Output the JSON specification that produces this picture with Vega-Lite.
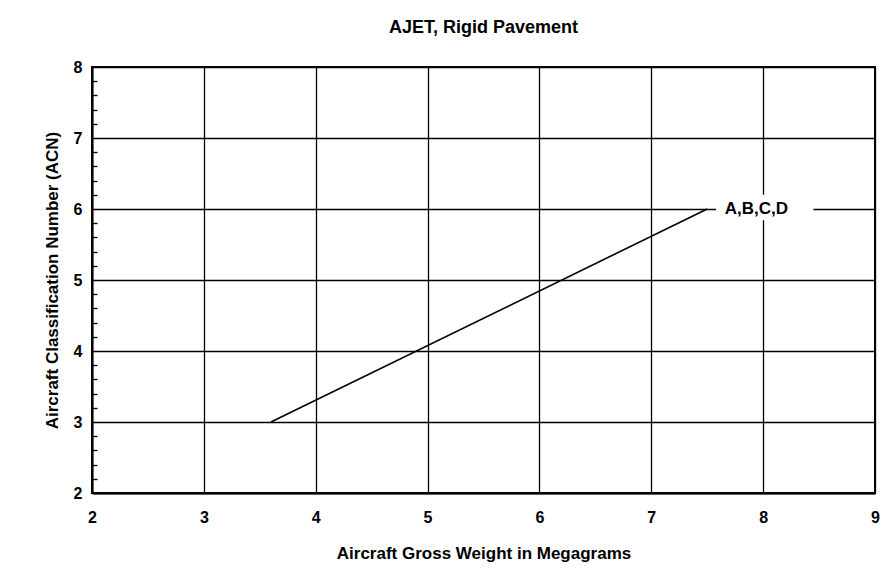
{
  "$schema": "https://vega.github.io/schema/vega-lite/v6.json",
  "width": 783,
  "height": 426,
  "autosize": {"type": "none"},
  "padding": {"left": 92, "top": 67, "right": 17, "bottom": 82},
  "background": "white",
  "title": {
    "text": "AJET, Rigid Pavement",
    "font": "Liberation Sans",
    "fontSize": 18,
    "fontWeight": "bold",
    "color": "black",
    "anchor": "middle",
    "baseline": "alphabetic",
    "offset": 8
  },
  "config": {
    "view": {"stroke": "black", "strokeWidth": 2},
    "axis": {
      "labelFont": "Liberation Sans",
      "labelFontWeight": "bold",
      "labelFontSize": 16,
      "labelColor": "black",
      "titleFont": "Liberation Sans",
      "titleFontWeight": "bold",
      "titleFontSize": 17,
      "titleColor": "black",
      "domainColor": "black",
      "domainWidth": 2,
      "gridColor": "black",
      "gridOpacity": 1,
      "gridWidth": 1.3,
      "tickColor": "black",
      "labelOverlap": false,
      "labelFlush": false
    }
  },
  "resolve": {"axis": {"y": "independent"}},
  "datasets": {
    "curve": [
      {"weight": 3.6, "acn": 3},
      {"weight": 7.5, "acn": 6}
    ],
    "labelbox": [
      {"x0": 7.58, "x1": 8.45, "y0": 5.84, "y1": 6.2}
    ],
    "labels": [
      {"weight": 7.94, "acn": 6, "text": "A,B,C,D"}
    ]
  },
  "layer": [
    {
      "data": {"name": "labelbox"},
      "mark": {"type": "rect", "fill": "white", "stroke": null},
      "encoding": {
        "x": {"field": "x0", "type": "quantitative", "scale": {"domain": [2, 9], "nice": false, "zero": false},
          "axis": {
            "title": "Aircraft Gross Weight in Megagrams",
            "values": [2, 3, 4, 5, 6, 7, 8, 9],
            "format": "d",
            "grid": true,
            "ticks": false,
            "labelPadding": 16,
            "titlePadding": 20
          }},
        "x2": {"field": "x1"},
        "y": {"field": "y0", "type": "quantitative", "scale": {"domain": [2, 8], "nice": false, "zero": false},
          "axis": {
            "title": "Aircraft Classification Number (ACN)",
            "orient": "left",
            "values": [2, 3, 4, 5, 6, 7, 8],
            "format": "d",
            "grid": true,
            "ticks": false,
            "labelPadding": 10,
            "titlePadding": 12
          }},
        "y2": {"field": "y1"}
      }
    },
    {
      "data": {"name": "curve"},
      "mark": {"type": "line", "color": "black", "strokeWidth": 1.6},
      "encoding": {
        "x": {"field": "weight", "type": "quantitative"},
        "y": {"field": "acn", "type": "quantitative",
          "axis": {
            "title": null,
            "orient": "left",
            "values": [2.2, 2.4, 2.6, 2.8, 3.2, 3.4, 3.6, 3.8, 4.2, 4.4, 4.6, 4.8, 5.2, 5.4, 5.6, 5.8, 6.2, 6.4, 6.6, 6.8, 7.2, 7.4, 7.6, 7.8],
            "labels": false,
            "grid": false,
            "domain": false,
            "ticks": true,
            "tickSize": -5,
            "tickWidth": 1.3
          }}
      }
    },
    {
      "data": {"name": "labels"},
      "mark": {"type": "text", "font": "Liberation Sans", "fontWeight": "bold", "fontSize": 17, "color": "black", "align": "center", "baseline": "middle"},
      "encoding": {
        "x": {"field": "weight", "type": "quantitative"},
        "y": {"field": "acn", "type": "quantitative", "axis": null},
        "text": {"field": "text"}
      }
    }
  ]
}
